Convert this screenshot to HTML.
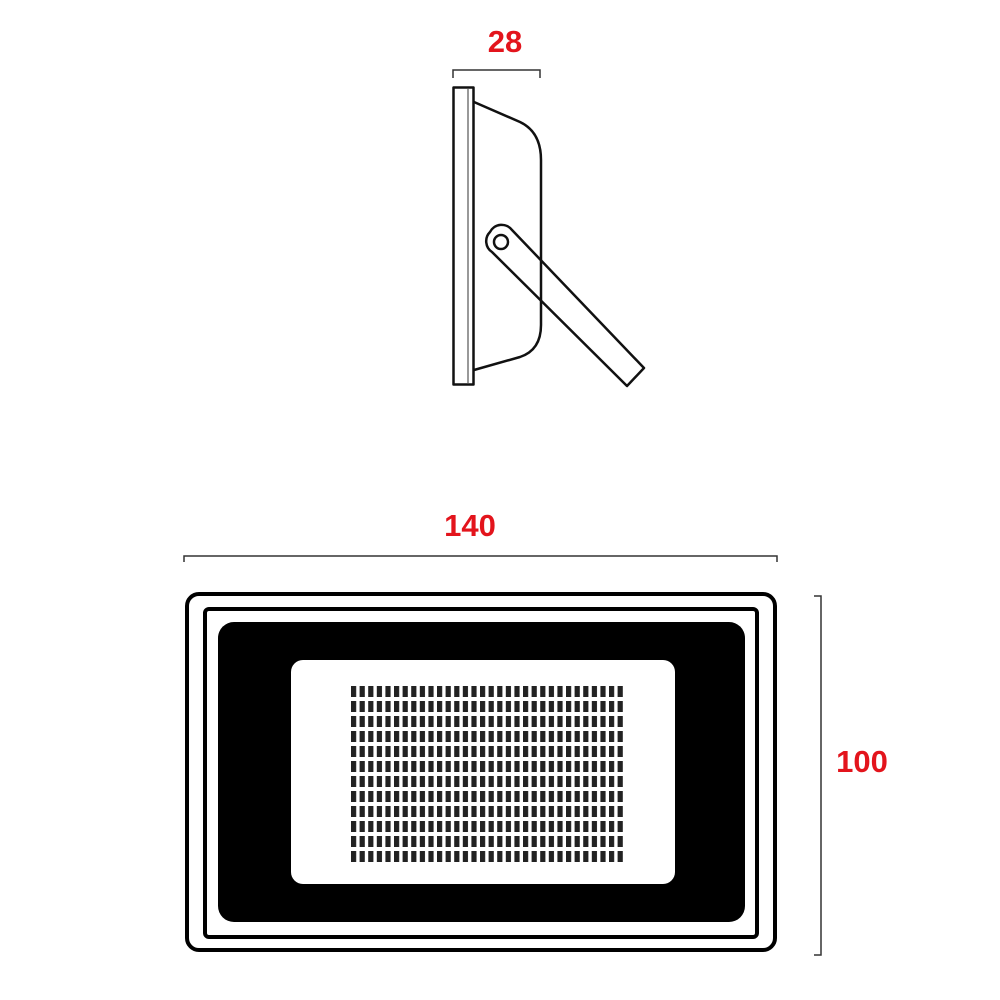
<!DOCTYPE html>
<html><head><meta charset="utf-8"><style>html,body{margin:0;padding:0;background:#fff}svg{display:block}</style></head>
<body>
<svg width="1000" height="1000" viewBox="0 0 1000 1000" xmlns="http://www.w3.org/2000/svg">
<defs>
<pattern id="led" x="351" y="686" width="8.6" height="15" patternUnits="userSpaceOnUse">
<rect x="0" y="0" width="5.2" height="11" fill="#222"/>
</pattern>
</defs>
<g font-family="Liberation Sans, sans-serif" font-weight="bold" fill="#e3141c" font-size="31">
<text x="505" y="52" text-anchor="middle">28</text>
<text x="470" y="536" text-anchor="middle">140</text>
<text x="862" y="772" text-anchor="middle">100</text>
</g>
<g fill="none" stroke="#333" stroke-width="1.5">
<polyline points="453,78 453,70 540,70 540,78"/>
<polyline points="184,562 184,556 777,556 777,562"/>
<polyline points="814,596 821,596 821,955 814,955"/>
</g>
<!-- side view -->
<g fill="none" stroke="#111" stroke-width="2.5" stroke-linejoin="round">
<rect x="453.5" y="87.5" width="20" height="297"/>
<line x1="468" y1="89" x2="468" y2="383" stroke="#999" stroke-width="2"/>
<path d="M474,102 L520,122 Q541,132 541,160 L541,325 Q541,350 520,357 L474,370"/>
<path d="M490,232 A13,13 0 0 1 512,230 L644,368 L627,386 L492,252 A13,13 0 0 1 490,232 Z" fill="none"/>
<circle cx="501" cy="242" r="7"/>
</g>
<!-- front view -->
<rect x="187" y="594" width="588" height="356" rx="12" fill="none" stroke="#000" stroke-width="4"/>
<rect x="205" y="609" width="552" height="328" rx="4" fill="none" stroke="#000" stroke-width="4"/>
<rect x="218" y="622" width="527" height="300" rx="16" fill="#000"/>
<rect x="291" y="660" width="384" height="224" rx="12" fill="#fff"/>
<rect x="351" y="686" width="272" height="180" fill="url(#led)"/>
</svg>
</body></html>
